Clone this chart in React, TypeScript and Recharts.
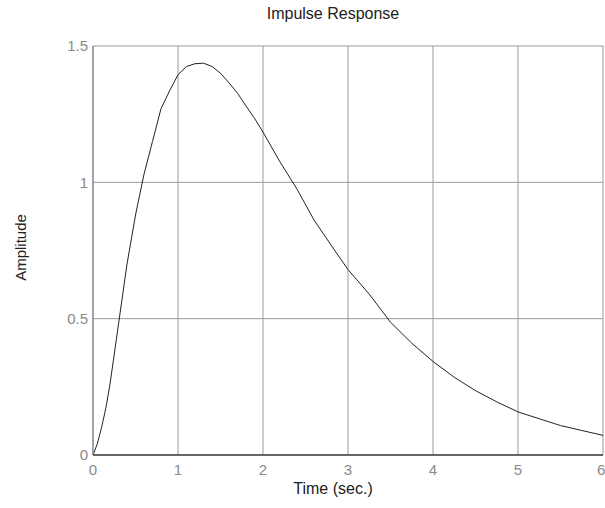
import React from 'react'
import {
  LineChart,
  Line,
  XAxis,
  YAxis,
  CartesianGrid,
} from 'recharts'

const time = [
  0, 0.05, 0.1, 0.15, 0.2, 0.3, 0.4, 0.5, 0.6, 0.7, 0.8, 0.9, 1.0, 1.1, 1.2, 1.3,
  1.4, 1.5, 1.6, 1.7, 1.8, 1.9, 2.0, 2.2, 2.4, 2.6, 2.8, 3.0, 3.25, 3.5, 3.75,
  4.0, 4.25, 4.5, 4.75, 5.0, 5.25, 5.5, 5.75, 6.0,
]
const amplitude = [
  0, 0.04, 0.1, 0.17, 0.26, 0.48, 0.7, 0.88, 1.03, 1.15, 1.27, 1.335, 1.395,
  1.425, 1.435, 1.437, 1.425, 1.4, 1.365, 1.327, 1.28, 1.235, 1.184, 1.075,
  0.975, 0.862, 0.77, 0.68, 0.59, 0.487, 0.41, 0.343, 0.285, 0.236, 0.195,
  0.158, 0.133, 0.108, 0.09, 0.072,
]
const xTicks = [0, 1, 2, 3, 4, 5, 6]
const yTicks = [0, 0.5, 1, 1.5]

const FONT = '"Liberation Sans", Arial, Helvetica, sans-serif'

export default function App() {
  const data = time.map((t, i) => ({ t, y: amplitude[i] }))

  return (
    <div
      style={{
        position: 'absolute',
        left: 0,
        top: 0,
        width: 605,
        height: 508,
        background: '#fff',
        fontFamily: FONT,
      }}
    >
      <LineChart
        width={605}
        height={508}
        data={data}
        margin={{ top: 46, right: 2, left: 0, bottom: 0 }}
      >
        <CartesianGrid stroke="#999" strokeWidth={1} />
        <XAxis
          dataKey="t"
          type="number"
          domain={[0, 6]}
          ticks={xTicks}
          height={53}
          tickLine={false}
          tickSize={7}
          tickMargin={2}
          axisLine={{ stroke: '#000', strokeWidth: 1.2 }}
          tick={{ fill: '#8a8a8a', fontSize: 15, fontFamily: FONT }}
        />
        <YAxis
          type="number"
          domain={[0, 1.5]}
          ticks={yTicks}
          width={93}
          tickLine={false}
          tickSize={3}
          tickMargin={2}
          axisLine={{ stroke: '#888', strokeWidth: 1.2 }}
          tick={{ fill: '#8a8a8a', fontSize: 15, fontFamily: FONT }}
        />
        <Line
          type="linear"
          dataKey="y"
          stroke="#222"
          strokeWidth={1}
          dot={false}
          isAnimationActive={false}
        />
      </LineChart>
      <div
        style={{
          position: 'absolute',
          left: 233,
          width: 200,
          top: 5,
          textAlign: 'center',
          fontSize: 16,
          color: '#222',
        }}
      >
        Impulse Response
      </div>
      <div
        style={{
          position: 'absolute',
          left: 233,
          width: 200,
          top: 480,
          textAlign: 'center',
          fontSize: 16,
          color: '#222',
        }}
      >
        Time (sec.)
      </div>
      <div
        style={{
          position: 'absolute',
          left: 20,
          top: 248,
          width: 0,
          height: 0,
        }}
      >
        <div
          style={{
            position: 'absolute',
            left: -50,
            top: -9,
            width: 100,
            textAlign: 'center',
            fontSize: 15,
            color: '#222',
            transform: 'rotate(-90deg)',
          }}
        >
          Amplitude
        </div>
      </div>
    </div>
  )
}
